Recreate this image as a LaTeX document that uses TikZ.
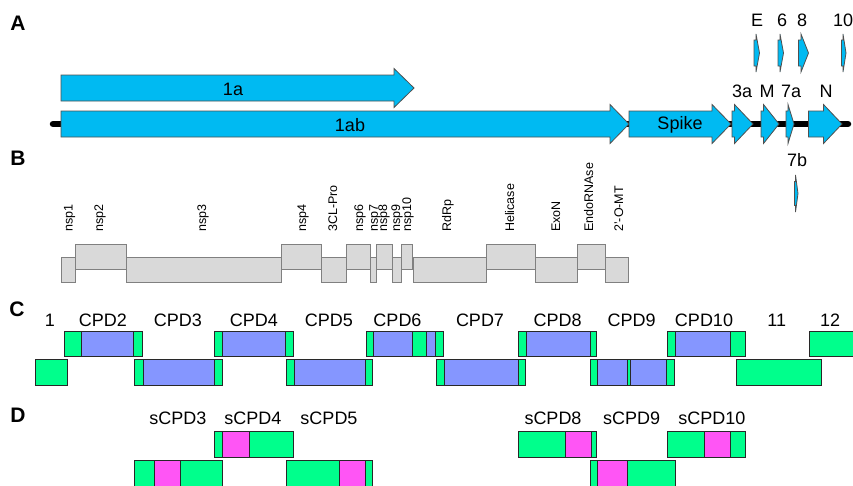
\documentclass[tikz,border=0pt]{standalone}
\usepackage{fontspec}
\setmainfont{Liberation Sans}
\definecolor{orfblue}{RGB}{0,186,242}
\definecolor{orfline}{RGB}{80,80,80}
\definecolor{nspfill}{RGB}{217,217,217}
\definecolor{nspline}{RGB}{128,128,128}
\definecolor{cpdgreen}{RGB}{0,255,140}
\definecolor{cpdblue}{RGB}{133,150,255}
\definecolor{cpdmag}{RGB}{255,85,245}
\definecolor{cpdedge}{RGB}{40,40,40}
\newcommand{\orfarr}[6]{% x0, xhead, xtip, ymid, shaft half, head half
  \draw[orf] (#1,#4-#5) -- (#2,#4-#5) -- (#2,#4-#6) -- (#3,#4) -- (#2,#4+#6) -- (#2,#4+#5) -- (#1,#4+#5) -- cycle;}
\newcommand{\nspbox}[4]{\draw[nspbx] (#1,#3) rectangle (#2,#4);}
\newcommand{\segbox}[5]{\draw[segbx,fill=#5] (#1,#3) rectangle (#2,#4);}
\begin{document}
\begin{tikzpicture}[x=1pt,y=-1pt,
  orf/.style={fill=orfblue,draw=orfline,line width=0.8pt,line join=miter},
  nspbx/.style={fill=nspfill,draw=nspline,line width=0.9pt},
  segbx/.style={draw=cpdedge,line width=0.7pt},
  panel/.style={font=\fontsize{21}{23}\selectfont\bfseries,anchor=base,inner sep=0pt},
  big/.style={font=\fontsize{18}{20}\selectfont,anchor=base,inner sep=0pt},
  nsplbl/.style={font=\fontsize{12.5}{14}\selectfont,rotate=90,anchor=west,inner sep=0pt,text height=9pt,text depth=2.6pt}]
\useasboundingbox (0,0) rectangle (853,485);
% ---------------- A ----------------
\node[panel] (pA) at (18,30) {A};
\draw[line width=6.5pt,line cap=round] (53,124) -- (848,124);
\orfarr{61}{394}{414}{88}{13}{19.5}
\node[big] (l1a) at (233,95) {1a};
\orfarr{61}{610}{629}{124}{13}{19.5}
\node[big] (l1ab) at (350,131) {1ab};
\orfarr{629}{712}{731}{124}{13}{19.5}
\node[big] (lspike) at (680,129.5) {Spike};
\orfarr{732}{734.5}{753}{124}{13}{19.5}
\orfarr{761}{763.5}{779}{124}{13}{19.5}
\orfarr{786}{788}{794}{124}{13}{19.5}
\orfarr{808.5}{823.5}{842}{124}{13}{19.5}
\node[big] (l3a) at (742,97) {3a};
\node[big] (lM) at (767,97) {M};
\node[big] (l7a) at (791,97) {7a};
\node[big] (lN) at (826,97) {N};
\orfarr{754}{756}{759.5}{53}{13}{19}
\orfarr{778}{780}{783.5}{53}{13}{19}
\orfarr{798.5}{801}{808.5}{53}{13}{19}
\orfarr{841.5}{843}{846}{53}{13}{19}
\node[big] (lE) at (757,26.5) {E};
\node[big] (l6) at (782,26.5) {6};
\node[big] (l8) at (802,26.5) {8};
\node[big] (l10) at (843,26.5) {10};
\orfarr{794.5}{795.5}{798}{193.5}{12}{18.5}
\node[big] (l7b) at (797,166.5) {7b};
% ---------------- B ----------------
\node[panel] (pB) at (18,165.5) {B};
\nspbox{61.3}{75.3}{257.3}{282.3}
\nspbox{75.3}{126}{244.3}{269}
\nspbox{126}{281.7}{257.3}{282.3}
\nspbox{281.7}{321.7}{244.3}{269}
\nspbox{321.7}{346}{257.3}{282.3}
\nspbox{346}{370}{244.3}{269}
\nspbox{370}{376.7}{257.3}{282.3}
\nspbox{376.7}{392.3}{244.3}{269}
\nspbox{392.3}{401}{257.3}{282.3}
\nspbox{401}{412.3}{244.3}{269}
\nspbox{413}{486.7}{257.3}{282.3}
\nspbox{486.7}{535}{244.3}{269}
\nspbox{535}{577.3}{257.3}{282.3}
\nspbox{577.3}{605}{244.3}{269}
\nspbox{605}{628.3}{257.3}{282.3}
\node[nsplbl] (n1) at (69.3,232) {nsp1};
\node[nsplbl] (n2) at (100,232) {nsp2};
\node[nsplbl] (n3) at (203,232) {nsp3};
\node[nsplbl] (n4) at (303,232) {nsp4};
\node[nsplbl] (n5) at (334,232) {3CL-Pro};
\node[nsplbl] (n6) at (360,232) {nsp6};
\node[nsplbl] (n7) at (374.7,232) {nsp7};
\node[nsplbl] (n8) at (384,232) {nsp8};
\node[nsplbl] (n9) at (397,232) {nsp9};
\node[nsplbl] (n10) at (408,232) {nsp10};
\node[nsplbl] (n12) at (448,232) {RdRp};
\node[nsplbl] (n13) at (511,232) {Helicase};
\node[nsplbl] (n14) at (557,232) {ExoN};
\node[nsplbl] (n15) at (590,232) {EndoRNAse};
\node[nsplbl] (n16) at (620,232) {2'-O-MT};
% ---------------- C ----------------
\node[panel] (pC) at (17,316.7) {C};
\node[big] (c1) at (50,326) {1};
\node[big] (c2) at (102.8,326) {CPD2};
\node[big] (c3) at (178,326) {CPD3};
\node[big] (c4) at (254,326) {CPD4};
\node[big] (c5) at (329,326) {CPD5};
\node[big] (c6) at (397.5,326) {CPD6};
\node[big] (c7) at (480,326) {CPD7};
\node[big] (c8) at (557.7,326) {CPD8};
\node[big] (c9) at (631.7,326) {CPD9};
\node[big] (c10) at (704,326) {CPD10};
\node[big] (c11) at (776.7,326) {11};
\node[big] (c12) at (830,326) {12};
% upper row
\segbox{64}{142.7}{331}{356.7}{cpdgreen}
\segbox{81.7}{133.3}{331}{356.7}{cpdblue}
\segbox{214.3}{293.3}{331}{356.7}{cpdgreen}
\segbox{222.7}{285.7}{331}{356.7}{cpdblue}
\segbox{366}{443.3}{331}{356.7}{cpdgreen}
\segbox{373.3}{412.7}{331}{356.7}{cpdblue}
\segbox{426}{435}{331}{356.7}{cpdblue}
\segbox{518.7}{596.7}{331}{356.7}{cpdgreen}
\segbox{526.7}{590}{331}{356.7}{cpdblue}
\segbox{667.7}{745.7}{331}{356.7}{cpdgreen}
\segbox{675.7}{730}{331}{356.7}{cpdblue}
\segbox{809}{856}{331}{356.7}{cpdgreen}
% lower row
\segbox{35.7}{67.7}{359.3}{385}{cpdgreen}
\segbox{134.3}{222.3}{359.3}{385}{cpdgreen}
\segbox{143.3}{214.3}{359.3}{385}{cpdblue}
\segbox{286.7}{372.7}{359.3}{385}{cpdgreen}
\segbox{294.3}{365.7}{359.3}{385}{cpdblue}
\segbox{436}{525.3}{359.3}{385}{cpdgreen}
\segbox{444.3}{518.3}{359.3}{385}{cpdblue}
\segbox{590.7}{674.3}{359.3}{385}{cpdgreen}
\segbox{597.7}{627.7}{359.3}{385}{cpdblue}
\segbox{630}{666.7}{359.3}{385}{cpdblue}
\segbox{736.7}{821}{359.3}{385}{cpdgreen}
% ---------------- D ----------------
\node[panel] (pD) at (18,422) {D};
\node[big] (d3) at (177.8,424.3) {sCPD3};
\node[big] (d4) at (253,424.3) {sCPD4};
\node[big] (d5) at (329,424.3) {sCPD5};
\node[big] (d8) at (553,424.3) {sCPD8};
\node[big] (d9) at (631.7,424.3) {sCPD9};
\node[big] (d10) at (711.8,424.3) {sCPD10};
\segbox{214.3}{293.3}{431.7}{457.3}{cpdgreen}
\segbox{222.7}{249}{431.7}{457.3}{cpdmag}
\segbox{518.3}{596.7}{431.7}{457.3}{cpdgreen}
\segbox{565.7}{591.7}{431.7}{457.3}{cpdmag}
\segbox{667.3}{745.7}{431.7}{457.3}{cpdgreen}
\segbox{704}{730}{431.7}{457.3}{cpdmag}
\segbox{134.3}{222.3}{460}{488}{cpdgreen}
\segbox{154}{180}{460}{488}{cpdmag}
\segbox{286.7}{372.7}{460}{488}{cpdgreen}
\segbox{339}{365}{460}{488}{cpdmag}
\segbox{590.7}{675}{460}{488}{cpdgreen}
\segbox{597.7}{627.7}{460}{488}{cpdmag}
\end{tikzpicture}
\end{document}
